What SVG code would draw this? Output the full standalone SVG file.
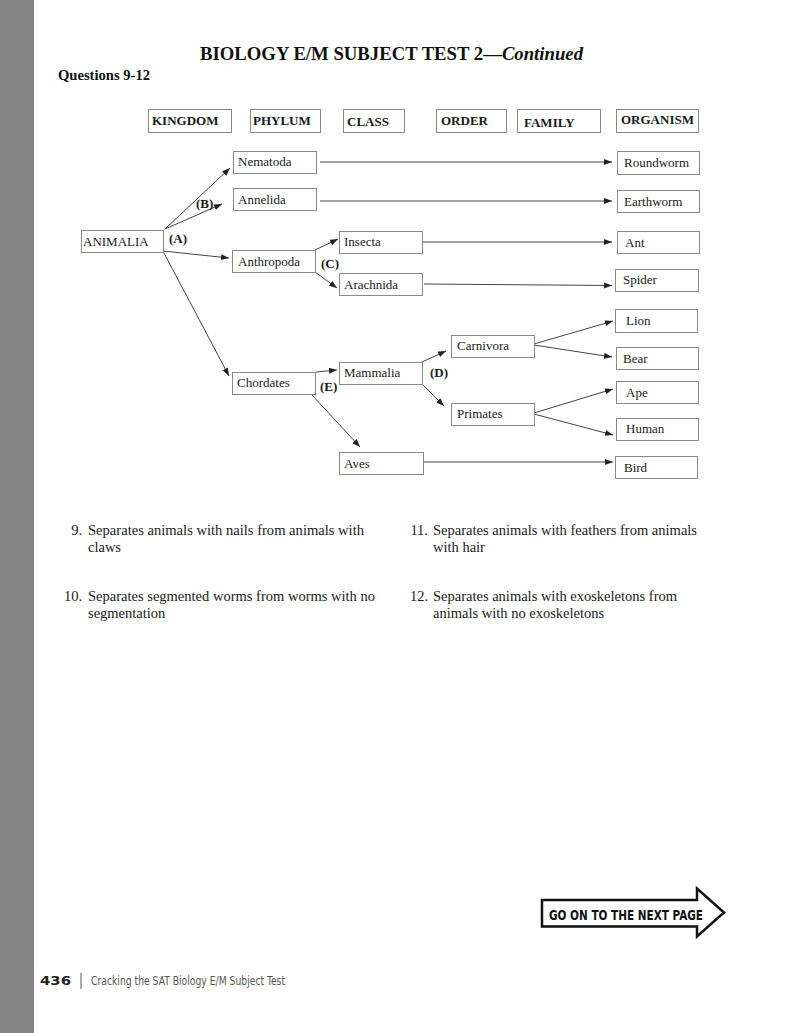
<svg xmlns="http://www.w3.org/2000/svg" width="803" height="1033" viewBox="0 0 803 1033">
<style>
.box{fill:#fff;stroke:#8a8a8a;stroke-width:1}
.t{font-family:"Liberation Serif","Times New Roman",serif;font-size:13px;fill:#1a1a1a}
.hb{font-family:"Liberation Serif","Times New Roman",serif;font-size:13px;font-weight:bold;fill:#1a1a1a}
.lab{font-family:"Liberation Serif","Times New Roman",serif;font-size:13px;font-weight:bold;fill:#1a1a1a}
.q{font-family:"Liberation Serif","Times New Roman",serif;font-size:14.5px;fill:#1a1a1a}
.c line{stroke:#444;stroke-width:1;marker-end:url(#ah)}
.c line.n{marker-end:none}
</style>
<defs>
<marker id="ah" markerUnits="userSpaceOnUse" markerWidth="9" markerHeight="7" refX="8" refY="3" orient="auto">
<path d="M0,0 L8,3 L0,6 Z" fill="#222"/>
</marker>
</defs>
<rect x="0" y="0" width="803" height="1033" fill="#fff"/>
<rect x="0" y="0" width="34" height="1033" fill="#848484"/>

<g id="title">
<text x="200" y="60" font-family="'Liberation Serif','Times New Roman',serif" font-size="19" font-weight="bold" fill="#111" textLength="383" lengthAdjust="spacingAndGlyphs">BIOLOGY E/M SUBJECT TEST 2—<tspan font-style="italic">Continued</tspan></text>
<text x="58" y="80" font-family="'Liberation Serif','Times New Roman',serif" font-size="14.5" font-weight="bold" fill="#111" textLength="92" lengthAdjust="spacingAndGlyphs">Questions 9-12</text>
</g>

<g id="header">
<g id="h-kingdom"><rect class="box" x="148.5" y="109.5" width="83" height="23"/><text class="hb" x="152" y="125">KINGDOM</text></g>
<g id="h-phylum"><rect class="box" x="250.5" y="109.5" width="70" height="23"/><text class="hb" x="253" y="125">PHYLUM</text></g>
<g id="h-class"><rect class="box" x="343.5" y="109.5" width="61" height="23"/><text class="hb" x="347" y="126">CLASS</text></g>
<g id="h-order"><rect class="box" x="436.5" y="109.5" width="70" height="23"/><text class="hb" x="441" y="125">ORDER</text></g>
<g id="h-family"><rect class="box" x="517.5" y="109.5" width="83" height="23"/><text class="hb" x="524" y="127">FAMILY</text></g>
<g id="h-organism"><rect class="box" x="616.5" y="109.5" width="82" height="23"/><text class="hb" x="621" y="124">ORGANISM</text></g>
</g>

<g id="connectors" class="c">
<line x1="165" y1="229" x2="230" y2="168"/>
<line x1="165" y1="229" x2="222" y2="204"/>
<line x1="163" y1="251" x2="229" y2="258"/>
<line x1="164" y1="253" x2="229" y2="376"/>
<line x1="315" y1="250" x2="338" y2="239"/>
<line x1="315" y1="272" x2="337" y2="288"/>
<line x1="320" y1="162" x2="612" y2="162"/>
<line x1="320" y1="201" x2="612" y2="201"/>
<line x1="423" y1="242" x2="612" y2="242"/>
<line x1="424" y1="284" x2="612" y2="285.5"/>
<line x1="316" y1="372" x2="337" y2="370"/>
<line x1="312" y1="395" x2="360" y2="447"/>
<line x1="422" y1="362" x2="446" y2="351"/>
<line x1="422" y1="384" x2="444" y2="406"/>
<line x1="534" y1="344" x2="613" y2="321"/>
<line x1="534" y1="345" x2="612" y2="357"/>
<line x1="534" y1="413" x2="613" y2="389"/>
<line x1="534" y1="414" x2="613" y2="435"/>
<line x1="423" y1="462" x2="613" y2="462"/>
</g>

<g id="labels">
<text class="lab" x="169" y="243">(A)</text>
<text class="lab" x="196" y="208">(B)</text>
<text class="lab" x="321" y="268">(C)</text>
<text class="lab" x="430" y="377">(D)</text>
<text class="lab" x="320" y="391">(E)</text>
</g>

<g id="n-animalia"><rect class="box" x="81.5" y="230.5" width="82" height="22"/><text class="t" x="83" y="246">ANIMALIA</text></g>
<g id="n-nematoda"><rect class="box" x="233.5" y="151.5" width="83" height="22"/><text class="t" x="238" y="166">Nematoda</text></g>
<g id="n-annelida"><rect class="box" x="233.5" y="188.5" width="83" height="22"/><text class="t" x="238" y="204">Annelida</text></g>
<g id="n-anthropoda"><rect class="box" x="232.5" y="250.5" width="83" height="22"/><text class="t" x="238" y="266">Anthropoda</text></g>
<g id="n-chordates"><rect class="box" x="232.5" y="372.5" width="83" height="22"/><text class="t" x="237" y="387">Chordates</text></g>
<g id="n-insecta"><rect class="box" x="339.5" y="231.5" width="83" height="22"/><text class="t" x="344" y="246">Insecta</text></g>
<g id="n-arachnida"><rect class="box" x="339.5" y="273.5" width="83" height="22"/><text class="t" x="344" y="289">Arachnida</text></g>
<g id="n-mammalia"><rect class="box" x="339.5" y="362.5" width="83" height="22"/><text class="t" x="344" y="377">Mammalia</text></g>
<g id="n-aves"><rect class="box" x="339.5" y="452.5" width="84" height="22"/><text class="t" x="344" y="468">Aves</text></g>
<g id="n-carnivora"><rect class="box" x="451.5" y="335.5" width="83" height="22"/><text class="t" x="457" y="350">Carnivora</text></g>
<g id="n-primates"><rect class="box" x="451.5" y="403.5" width="83" height="22"/><text class="t" x="457" y="418">Primates</text></g>
<g id="n-roundworm"><rect class="box" x="617.5" y="151.5" width="82" height="23"/><text class="t" x="624" y="167">Roundworm</text></g>
<g id="n-earthworm"><rect class="box" x="617.5" y="190.5" width="82" height="22"/><text class="t" x="624" y="206">Earthworm</text></g>
<g id="n-ant"><rect class="box" x="617.5" y="231.5" width="82" height="22"/><text class="t" x="625" y="247">Ant</text></g>
<g id="n-spider"><rect class="box" x="615.5" y="269.5" width="83" height="22"/><text class="t" x="623" y="284">Spider</text></g>
<g id="n-lion"><rect class="box" x="615.5" y="309.5" width="82" height="23"/><text class="t" x="626" y="325">Lion</text></g>
<g id="n-bear"><rect class="box" x="616.5" y="347.5" width="82" height="22"/><text class="t" x="623" y="363">Bear</text></g>
<g id="n-ape"><rect class="box" x="616.5" y="381.5" width="82" height="22"/><text class="t" x="626" y="397">Ape</text></g>
<g id="n-human"><rect class="box" x="616.5" y="418.5" width="82" height="22"/><text class="t" x="626" y="433">Human</text></g>
<g id="n-bird"><rect class="box" x="615.5" y="456.5" width="82" height="22"/><text class="t" x="624" y="472">Bird</text></g>

<g id="questions">
<text class="q" x="82" y="535" text-anchor="end">9.</text>
<text class="q" x="88" y="535" textLength="276" lengthAdjust="spacingAndGlyphs">Separates animals with nails from animals with</text>
<text class="q" x="88" y="552">claws</text>
<text class="q" x="82" y="601" text-anchor="end">10.</text>
<text class="q" x="88" y="601" textLength="287" lengthAdjust="spacingAndGlyphs">Separates segmented worms from worms with no</text>
<text class="q" x="88" y="618">segmentation</text>
<text class="q" x="428" y="535" text-anchor="end">11.</text>
<text class="q" x="433" y="535" textLength="264" lengthAdjust="spacingAndGlyphs">Separates animals with feathers from animals</text>
<text class="q" x="433" y="552">with hair</text>
<text class="q" x="428" y="601" text-anchor="end">12.</text>
<text class="q" x="433" y="601" textLength="244" lengthAdjust="spacingAndGlyphs">Separates animals with exoskeletons from</text>
<text class="q" x="433" y="618">animals with no exoskeletons</text>
</g>

<g id="next-page">
<path d="M542,900 L697,900 L697,888.5 L724,912.5 L697,936.5 L697,926.5 L542,926.5 Z" fill="#fff" stroke="#111" stroke-width="2.5" stroke-linejoin="miter"/>
<text x="549" y="919.5" font-family="'DejaVu Sans Condensed','Liberation Sans Narrow','DejaVu Sans',sans-serif" font-size="14.5" font-weight="bold" fill="#111" textLength="154" lengthAdjust="spacingAndGlyphs">GO ON TO THE NEXT PAGE</text>
</g>

<g id="footer">
<text x="40" y="985" font-family="'DejaVu Sans Condensed','Liberation Sans Narrow',sans-serif" font-size="12" font-weight="bold" fill="#222" textLength="31" lengthAdjust="spacingAndGlyphs">436</text>
<line x1="81" y1="973" x2="81" y2="989" stroke="#555" stroke-width="1"/>
<text x="91" y="985" font-family="'DejaVu Sans Condensed','Liberation Sans Narrow',sans-serif" font-size="11.5" fill="#555" textLength="194" lengthAdjust="spacingAndGlyphs">Cracking the SAT Biology E/M Subject Test</text>
</g>
</svg>
